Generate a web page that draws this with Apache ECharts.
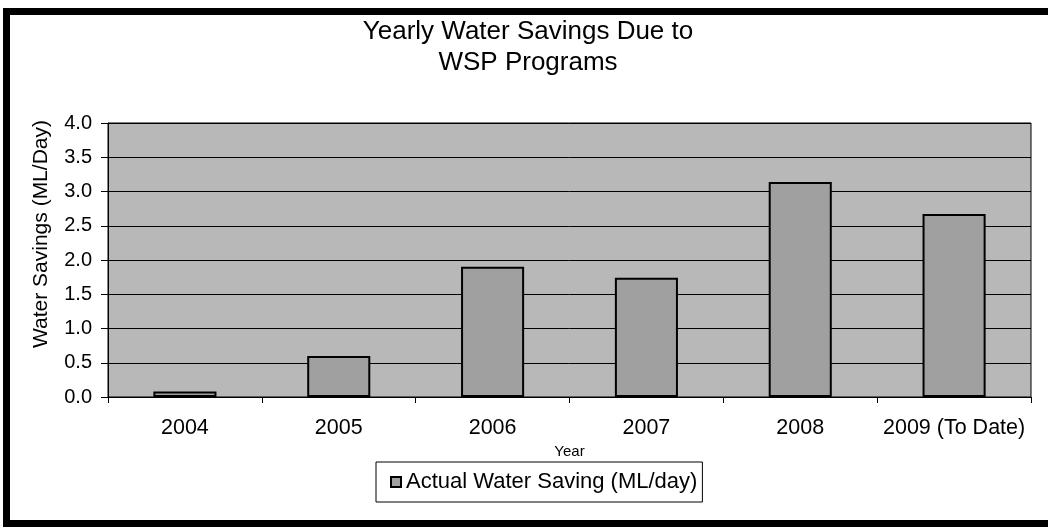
<!DOCTYPE html>
<html>
<head>
<meta charset="utf-8">
<script src="https://cdn.jsdelivr.net/npm/echarts@6/dist/echarts.min.js"></script>
<style>
html,body{margin:0;padding:0;background:#fff;}
#frame{position:absolute;left:3px;top:8px;width:1060px;height:505px;border:7px solid #000;border-right:none;box-sizing:content-box;}
#chart{position:absolute;left:0;top:0;width:1048px;height:529px;}
</style>
</head>
<body>
<div id="frame"></div>
<div id="chart"></div>
<script>
const categories = ['2004', '2005', '2006', '2007', '2008', '2009 (To Date)'];
const savings = [0.08, 0.60, 1.90, 1.74, 3.14, 2.67];
const seriesName = 'Actual Water Saving (ML/day)';
const titleLines = ['Yearly Water Savings Due to', 'WSP Programs'];
const yTicks = { min: 0, max: 4, interval: 0.5 };

const chart = echarts.init(document.getElementById('chart'), null, { renderer: 'canvas' });
const font = 'Liberation Sans, Arial, sans-serif';
chart.setOption({
  backgroundColor: 'transparent',
  animation: false,
  title: {
    text: titleLines.join('\n'),
    left: 523, top: 11, textAlign: 'center',
    textStyle: { fontFamily: font, fontSize: 26, fontWeight: 'normal', color: '#000', lineHeight: 31 }
  },
  grid: { left: 108, right: 17, top: 123, bottom: 132, show: true, backgroundColor: '#b8b8b8', borderColor: '#000', borderWidth: 1 },
  legend: {
    data: [seriesName], left: 376, top: 462,
    itemWidth: 10, itemHeight: 10, itemGap: 4,
    padding: [9, 5, 9, 14],
    borderColor: '#000', borderWidth: 1,
    textStyle: { fontFamily: font, fontSize: 22, color: '#000' },
    icon: 'rect'
  },
  xAxis: {
    type: 'category', data: categories,
    name: 'Year', nameLocation: 'middle', nameGap: 45,
    nameTextStyle: { fontFamily: font, fontSize: 15, color: '#000' },
    axisLine: { lineStyle: { color: '#000', width: 1 } },
    axisTick: { show: true, length: 6, lineStyle: { color: '#000' } },
    axisLabel: { fontFamily: font, fontSize: 21.5, color: '#000', margin: 20, interval: 0 },
    splitLine: { show: false }
  },
  yAxis: {
    type: 'value', min: yTicks.min, max: yTicks.max, interval: yTicks.interval,
    name: 'Water Savings (ML/Day)', nameLocation: 'middle', nameGap: 56,
    nameTextStyle: { fontFamily: font, fontSize: 21, color: '#000', padding: [0, 0, 0, 52] },
    axisLine: { show: true, lineStyle: { color: '#000', width: 1 } },
    axisTick: { show: true, length: 7, lineStyle: { color: '#000' } },
    axisLabel: { fontFamily: font, fontSize: 20, color: '#000', margin: 16, formatter: v => v.toFixed(1) },
    splitLine: { show: true, lineStyle: { color: '#000', width: 1 } }
  },
  series: [{
    name: seriesName, type: 'bar', data: savings,
    barWidth: '41%',
    itemStyle: { color: '#a0a0a0', borderColor: '#000', borderWidth: 2 }
  }]
});
</script>
</body>
</html>
